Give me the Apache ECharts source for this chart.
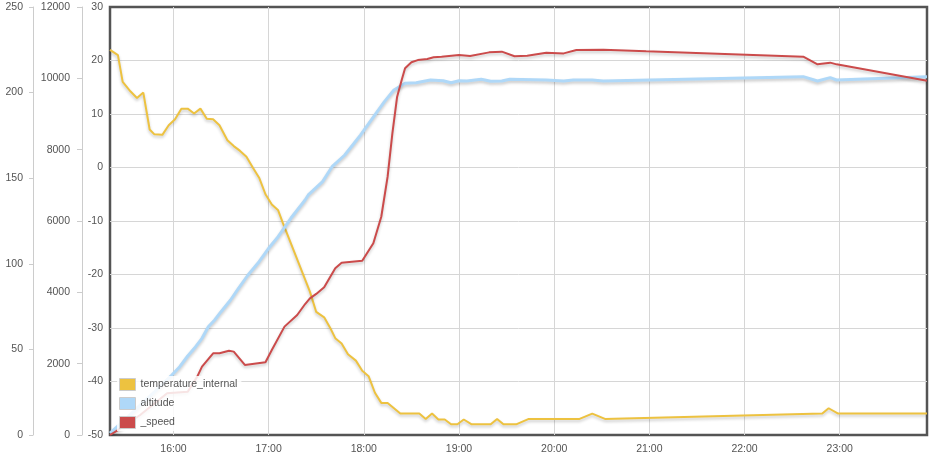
<!DOCTYPE html>
<html>
<head>
<meta charset="utf-8">
<script src="https://cdn.jsdelivr.net/npm/echarts@6/dist/echarts.min.js"></script>
<style>
  html, body { margin: 0; padding: 0; background: #fff; }
  #chart { width: 939px; height: 466px; }
</style>
</head>
<body>
<div id="chart"></div>
<script>
// ---- data ----
const xStart = '15:20';
const xEnd = '23:55';

const tempTimes = ['15:20','15:25','15:28','15:33','15:37','15:41','15:45','15:48','15:53','15:57',
  '16:01','16:05','16:09','16:13','16:17','16:21','16:25','16:29','16:34','16:38','16:42','16:46',
  '16:50','16:54','16:58','17:02','17:06','17:09','17:26','17:30','17:35','17:39','17:42','17:46',
  '17:50','17:55','17:59','18:03','18:07','18:11','18:15','18:19','18:23','18:35','18:39','18:43',
  '18:47','18:51','18:55','18:59','19:03','19:08','19:20','19:24','19:28','19:36','19:44','20:16',
  '20:24','20:32','22:49','22:53','22:59','23:55'];
const tempValues = [22.0,21.0,16.0,14.2,13.0,14.0,7.1,6.2,6.1,7.9,
  9.0,11.0,11.0,10.1,11.0,9.1,9.0,7.9,5.1,4.0,3.1,2.0,
  0.0,-1.9,-5.0,-6.9,-8.0,-10.4,-23.2,-27.0,-28.0,-30.1,-31.9,-32.9,
  -34.9,-36.1,-38.0,-39.0,-42.1,-44.0,-44.0,-45.0,-46.0,-46.0,-47.0,-46.0,
  -47.1,-47.1,-48.0,-48.0,-47.1,-48.0,-48.0,-47.0,-48.0,-48.0,-47.0,-47.0,
  -46.0,-47.0,-46.0,-45.0,-46.0,-46.0];

const altTimes = ['15:20','15:30','15:40','15:50','15:59','16:04','16:09','16:14','16:18','16:22',
  '16:26','16:30','16:36','16:41','16:47','16:54','17:00','17:06','17:14','17:23','17:25','17:34',
  '17:40','17:48','17:58','18:07','18:13','18:19','18:26','18:33','18:42','18:50','18:55','19:00',
  '19:05','19:14','19:20','19:27','19:32','19:55','20:06','20:12','20:24','20:31','22:37','22:46',
  '22:54','22:58','23:55'];
const altValues = [50,450,880,1290,1682,1915,2215,2476,2711,3037,
  3225,3457,3785,4113,4486,4859,5235,5560,6076,6589,6730,7103,
  7523,7851,8412,8973,9346,9674,9862,9878,9954,9934,9878,9934,
  9926,9974,9918,9926,9974,9954,9926,9954,9954,9926,10047,9926,
  10019,9954,10047];

const speedTimes = ['15:20','15:25','15:39','15:56','16:09','16:15','16:18','16:25','16:29','16:35',
  '16:38','16:45','16:58','17:02','17:10','17:18','17:23','17:26','17:30','17:35','17:42','17:46',
  '17:59','18:06','18:11','18:15','18:18','18:21','18:24','18:26','18:30','18:34','18:40','18:44',
  '18:49','19:00','19:07','19:19','19:27','19:35','19:43','19:55','20:06','20:14','20:31','20:58',
  '22:37','22:46','22:54','22:58','23:55'];
const speedValues = [0,2.9,11.7,24.4,25.3,34.1,39.9,47.7,47.7,49.2,
  48.7,40.9,42.5,49.6,63.3,70.1,76.5,79.8,82.4,86.3,97.4,100.6,
  101.8,112.0,127.5,150.9,176.2,197.6,207.8,214.2,217.7,219.0,219.6,220.6,
  221.0,222.0,221.4,223.5,223.9,221.2,221.5,223.3,222.9,224.9,225.1,224.1,
  221.0,216.5,217.5,216.5,206.9];

const seriesNames = ['temperature_internal', 'altitude', '_speed'];
const speedAxis = { min: 0, max: 250, interval: 50 };
const altAxis = { min: 0, max: 12000, interval: 2000 };
const tempAxis = { min: -50, max: 30, interval: 10 };

// ---- helpers ----
function ts(s) {
  const p = s.split(':');
  return new Date(2013, 5, 1, +p[0], +p[1]).getTime();
}
function pairs(times, vals) {
  return times.map((t, i) => [ts(t), vals[i]]);
}

const font = 'Liberation Sans, Arial, Helvetica, sans-serif';
const textColor = '#545454';
const shadow = { shadowColor: 'rgba(0,0,0,0.22)', shadowBlur: 3, shadowOffsetY: 2 };
const plain = v => String(v);
const gridLine = { show: true, showMinLine: false, showMaxLine: false, lineStyle: { color: '#d6d6d6', width: 1 } };

const chart = echarts.init(document.getElementById('chart'), null, { renderer: 'canvas' });
chart.setOption({
  animation: false,
  color: ['#edc240', '#afd8f8', '#cb4b4b'],
  grid: {
    left: 110, right: 12, top: 7, bottom: 31,
    show: true, borderColor: '#545454', borderWidth: 2.5, backgroundColor: 'transparent'
  },
  legend: {
    data: seriesNames,
    orient: 'vertical',
    left: 117, top: 376,
    z: 20,
    padding: [2, 4, 2, 2],
    itemGap: 6,
    itemWidth: 16, itemHeight: 12,
    icon: 'rect',
    backgroundColor: 'rgba(255,255,255,0.85)',
    itemStyle: { borderColor: '#cccccc', borderWidth: 1 },
    textStyle: { fontFamily: font, fontSize: 10.5, color: textColor, padding: [0, 0, 0, 0] },
    selectedMode: false
  },
  xAxis: {
    type: 'time',
    min: ts(xStart), max: ts(xEnd),
    splitNumber: 9,
    minInterval: 3600 * 1000, maxInterval: 3600 * 1000,
    axisLine: { show: false },
    axisTick: { show: false },
    axisLabel: {
      formatter: '{HH}:{mm}',
      fontFamily: font, fontSize: 10.5, color: textColor, margin: 9,
      showMinLabel: false, showMaxLabel: false
    },
    splitLine: gridLine
  },
  yAxis: [
    {
      type: 'value', position: 'left', offset: 77,
      min: speedAxis.min, max: speedAxis.max, interval: speedAxis.interval,
      axisLine: { show: true, lineStyle: { color: '#cccccc' } },
      axisTick: { show: true, length: 4, lineStyle: { color: '#cccccc' } },
      axisLabel: { fontFamily: font, fontSize: 10.5, color: textColor, margin: 10, formatter: plain },
      splitLine: { show: false }
    },
    {
      type: 'value', position: 'left', offset: 28,
      min: altAxis.min, max: altAxis.max, interval: altAxis.interval,
      axisLine: { show: true, lineStyle: { color: '#cccccc' } },
      axisTick: { show: true, length: 5, lineStyle: { color: '#cccccc' } },
      axisLabel: { fontFamily: font, fontSize: 10.5, color: textColor, margin: 12, formatter: plain },
      splitLine: { show: false }
    },
    {
      type: 'value', position: 'left', offset: 0,
      min: tempAxis.min, max: tempAxis.max, interval: tempAxis.interval,
      axisLine: { show: false },
      axisTick: { show: false },
      axisLabel: { fontFamily: font, fontSize: 10.5, color: textColor, margin: 7, formatter: plain },
      splitLine: gridLine
    }
  ],
  series: [
    {
      name: seriesNames[0], type: 'line', yAxisIndex: 2, z: 2,
      data: pairs(tempTimes, tempValues),
      showSymbol: false, symbol: 'none',
      lineStyle: Object.assign({ width: 2, color: '#edc240' }, shadow)
    },
    {
      name: seriesNames[1], type: 'line', yAxisIndex: 1, z: 2,
      data: pairs(altTimes, altValues),
      showSymbol: false, symbol: 'none',
      lineStyle: Object.assign({ width: 3, color: '#afd8f8' }, shadow)
    },
    {
      name: seriesNames[2], type: 'line', yAxisIndex: 0, z: 2,
      data: pairs(speedTimes, speedValues),
      showSymbol: false, symbol: 'none',
      lineStyle: Object.assign({ width: 2, color: '#cb4b4b' }, shadow)
    }
  ]
});
</script>
</body>
</html>
